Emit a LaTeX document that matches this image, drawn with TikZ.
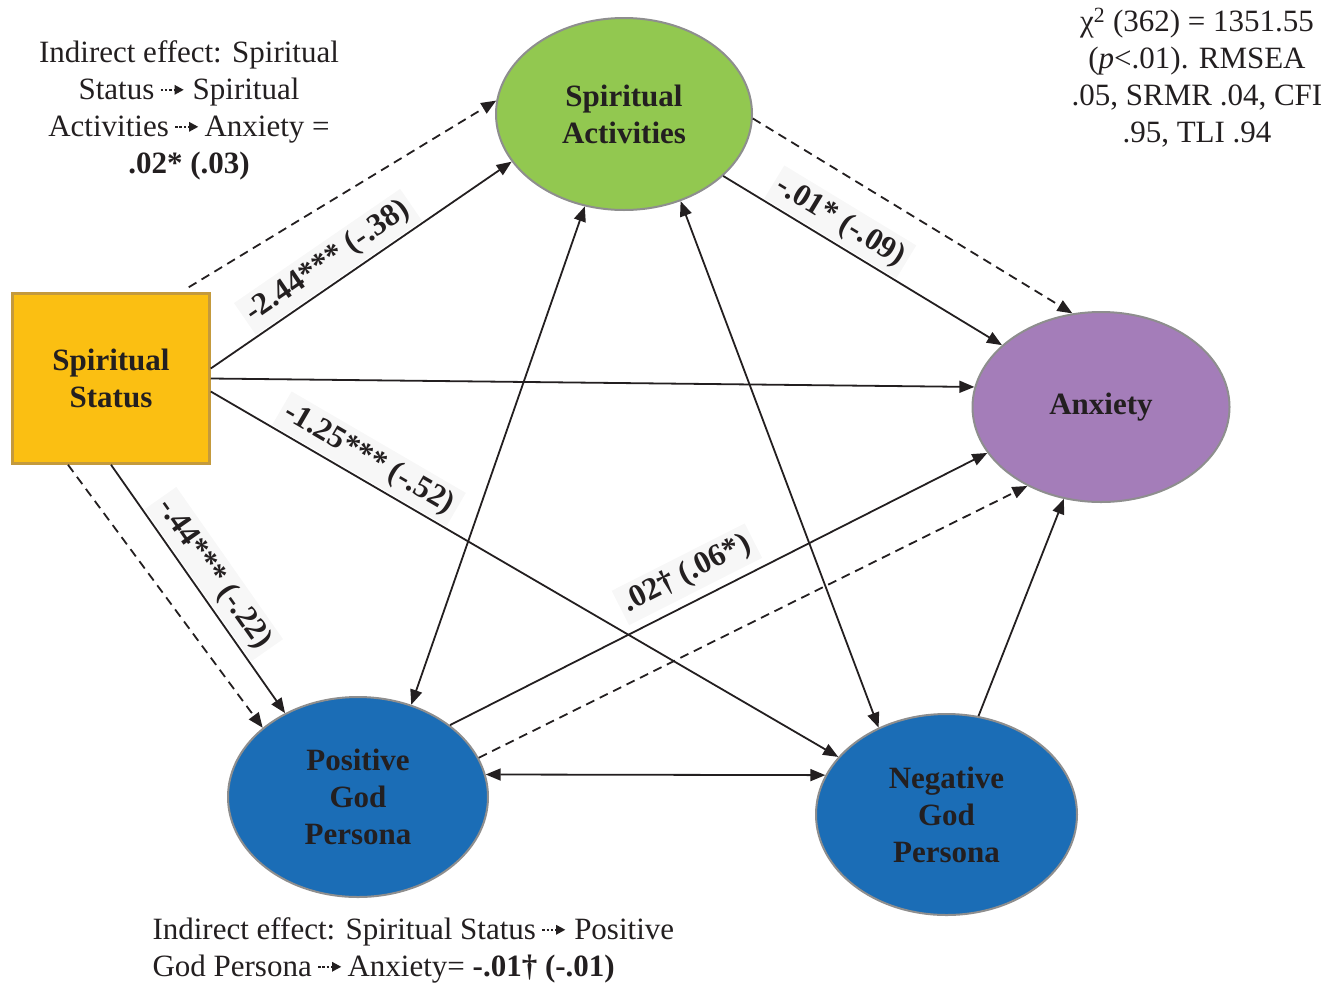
\documentclass[tikz,border=0pt]{standalone}
\usepackage{fontspec}
\setmainfont{Liberation Serif}
\usetikzlibrary{shapes.geometric,arrows.meta,calc}

\definecolor{ssfill}{HTML}{FBBF12}
\definecolor{ssdraw}{HTML}{C49A3C}
\definecolor{safill}{HTML}{92C850}
\definecolor{axfill}{HTML}{A47DB9}
\definecolor{gpfill}{HTML}{1B6DB6}
\definecolor{rim}{HTML}{8E8E8E}
\definecolor{ink}{HTML}{231F20}
\definecolor{band}{HTML}{F7F7F7}

\newcommand{\nodefont}{\fontsize{31}{37}\selectfont\bfseries}
\newcommand{\labfont}{\fontsize{31.5}{36}\selectfont\bfseries}
\newcommand{\notefont}{\fontsize{31}{37}\selectfont}
% small dotted arrow used inside the notes
\newcommand{\dotarrow}{\tikz[baseline=0pt]\draw[ink, line width=0.07em,
  dash pattern=on 0.08em off 0.06em,
  -{Triangle[length=0.3em,width=0.3em]}] (0,0.3em) -- (0.75em,0.3em);}

\begin{document}
\begin{tikzpicture}[x=1pt,y=1pt,
  box/.style={draw=ssdraw, fill=ssfill, line width=2.5pt, minimum width=197pt,
    minimum height=170pt, inner sep=0pt, align=center, font=\nodefont, text=ink},
  oval/.style={ellipse, draw=rim, line width=2pt, inner sep=0pt, align=center,
    font=\nodefont, text=ink},
  conn/.style={line width=1.8pt, draw=ink, -{Triangle[length=15pt,width=12pt]}},
  both/.style={line width=1.8pt, draw=ink,
    {Triangle[length=15pt,width=12pt]}-{Triangle[length=15pt,width=12pt]}},
  dashedarrow/.style={conn, dash pattern=on 9pt off 6pt},
  lab/.style={sloped, above=2pt, font=\labfont, text=ink, fill=band, inner sep=5pt},
  note/.style={font=\notefont, text=ink}]

\useasboundingbox (0,0) rectangle (1343,-988);

% variables
\node[box] (ss) at (111,-378.5) {Spiritual\\Status};
\node[oval, fill=safill, minimum width=256pt, minimum height=192pt] (sa) at (624,-114) {Spiritual\\Activities};
\node[oval, fill=axfill, minimum width=257pt, minimum height=190pt] (ax) at (1101,-407) {Anxiety};
\node[oval, fill=gpfill, minimum width=260pt, minimum height=200pt] (pg) at (358,-797) {Positive\\God\\Persona};
\node[oval, fill=gpfill, minimum width=261pt, minimum height=201pt] (ng) at (946.5,-814.5) {Negative\\God\\Persona};

% path coefficients (set first so the connectors lie on top of their bands)
\path ([yshift=10pt]ss.east) -- (sa.203) node[lab, pos=0.43] {-2.44*** (-.38)};
\path (sa.328) -- (ax.148) node[lab, pos=0.38] {-.01* (-.09)};
\path ([yshift=-13pt]ss.east) -- (ng.152) node[lab, pos=0.235] {-1.25*** (-.52)};
\path (ss.south) -- (pg.131) node[lab, pos=0.49] {-.44*** (-.22)};
\path (pg.38) -- (ax.202) node[lab, pos=0.464, above=6pt] {.02† (.06*)};

% direct paths
\draw[conn] ([yshift=10pt]ss.east) -- (sa.203);
\draw[conn] (ss.east) -- (ax.171);
\draw[conn] ([yshift=-13pt]ss.east) -- (ng.152);
\draw[conn] (ss.south) -- (pg.131);
\draw[conn] (sa.328) -- (ax.148);
\draw[conn] (pg.38) -- (ax.202);
\draw[conn] (ng.72) -- (ax.248);

% indirect paths
\draw[dashedarrow] ([xshift=-22pt,yshift=5pt]ss.north east) -- (sa.174);
\draw[dashedarrow] (sa.358) -- (ax.107);
\draw[dashedarrow] ([xshift=-43pt]ss.south) -- (pg.144);
\draw[dashedarrow] (pg.18) -- (ax.227);

% covariances
\draw[both] (sa.247) -- (pg.60);
\draw[both] (sa.303) -- (ng.128);
\draw[both] (pg.10) -- (ng.162);

% notes
\node[note, align=center] (n1) at (189,-110)
  {Indirect effect: Spiritual\\Status\,\dotarrow\ Spiritual\\Activities\,\dotarrow\,Anxiety =\\\textbf{.02* (.03)}};
\node[note, align=center] (n2) at (1197,-78)
  {χ\textsuperscript{2} (362) = 1351.55\\(\textit{p}<.01). RMSEA\\.05, SRMR .04, CFI\\.95, TLI .94};
\node[note, align=left, anchor=west] (n3) at (149,-950)
  {Indirect effect: Spiritual Status\,\dotarrow\ Positive\\God Persona\,\dotarrow\,Anxiety= \textbf{-.01† (-.01)}};
\end{tikzpicture}
\end{document}
